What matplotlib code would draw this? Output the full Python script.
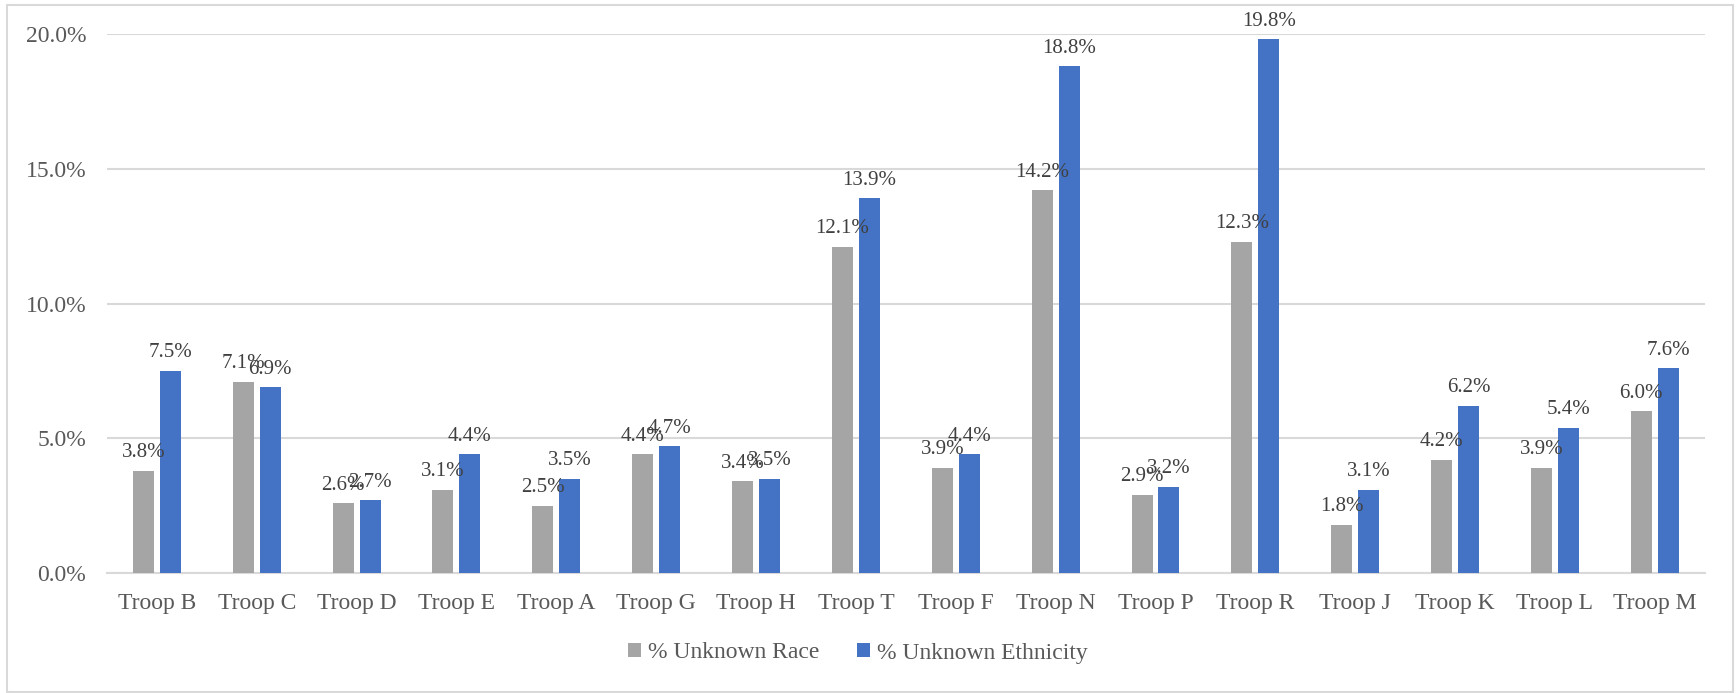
import numpy as np
import matplotlib
matplotlib.use("Agg")
import matplotlib.pyplot as plt
from matplotlib.patches import Rectangle
from matplotlib.ticker import FuncFormatter

troops = ["Troop B", "Troop C", "Troop D", "Troop E", "Troop A", "Troop G", "Troop H", "Troop T",
          "Troop F", "Troop N", "Troop P", "Troop R", "Troop J", "Troop K", "Troop L", "Troop M"]
unknown_race = [3.8, 7.1, 2.6, 3.1, 2.5, 4.4, 3.4, 12.1, 3.9, 14.2, 2.9, 12.3, 1.8, 4.2, 3.9, 6.0]
unknown_eth = [7.5, 6.9, 2.7, 4.4, 3.5, 4.7, 3.5, 13.9, 4.4, 18.8, 3.2, 19.8, 3.1, 6.2, 5.4, 7.6]

plt.rcParams['font.family'] = ['Liberation Serif', 'DejaVu Serif']
txt = "#595959"

fig = plt.figure(figsize=(17.36, 6.93), dpi=100)
ax = fig.add_axes([0.0616, 0.173, 0.9204, 0.778])

x = np.arange(len(troops))
w = 0.21
b1 = ax.bar(x - 0.135, unknown_race, w, color="#A5A5A5", label="% Unknown Race", zorder=3)
b2 = ax.bar(x + 0.135, unknown_eth, w, color="#4472C4", label="% Unknown Ethnicity", zorder=3)

# value labels above every bar
for bars, vals in [(b1, unknown_race), (b2, unknown_eth)]:
    for r, v in zip(bars, vals):
        ax.annotate(f"{v:.1f}%", (r.get_x() + r.get_width() / 2, v), xytext=(0, 18),
                    textcoords="offset pixels", ha="center", va="center",
                    fontsize=15, color="#404040", clip_on=False, zorder=4)

ax.set_xlim(-0.5, len(troops) - 0.5)
ax.set_ylim(0, 20)
ax.set_yticks([0, 5, 10, 15, 20])
ax.yaxis.set_major_formatter(FuncFormatter(lambda v, p: f"{v:.1f}%"))
ax.set_xticks(x)
ax.set_xticklabels(troops)
ax.tick_params(axis="both", length=0, labelsize=17, labelcolor=txt)
ax.tick_params(axis="x", pad=14)
ax.tick_params(axis="y", pad=15)
ax.grid(axis="y", color="#D9D9D9", linewidth=1.5, zorder=0)
for s in ["top", "right", "left"]:
    ax.spines[s].set_visible(False)
ax.spines["bottom"].set_color("#D9D9D9")
ax.spines["bottom"].set_linewidth(1.5)

leg = fig.legend(loc="center", bbox_to_anchor=(0.494, 1 - 653 / 693), ncol=2, frameon=False,
                 fontsize=17, handlelength=0.55, handleheight=0.55, handletextpad=0.3,
                 columnspacing=1.6)
for t in leg.get_texts():
    t.set_color(txt)

fig.patches.append(Rectangle((7 / 1736, 1 / 693), 1726 / 1736, 687 / 693, transform=fig.transFigure,
                             fill=False, edgecolor="#D9D9D9", linewidth=1.5))

fig.savefig("out.png", dpi=100)
